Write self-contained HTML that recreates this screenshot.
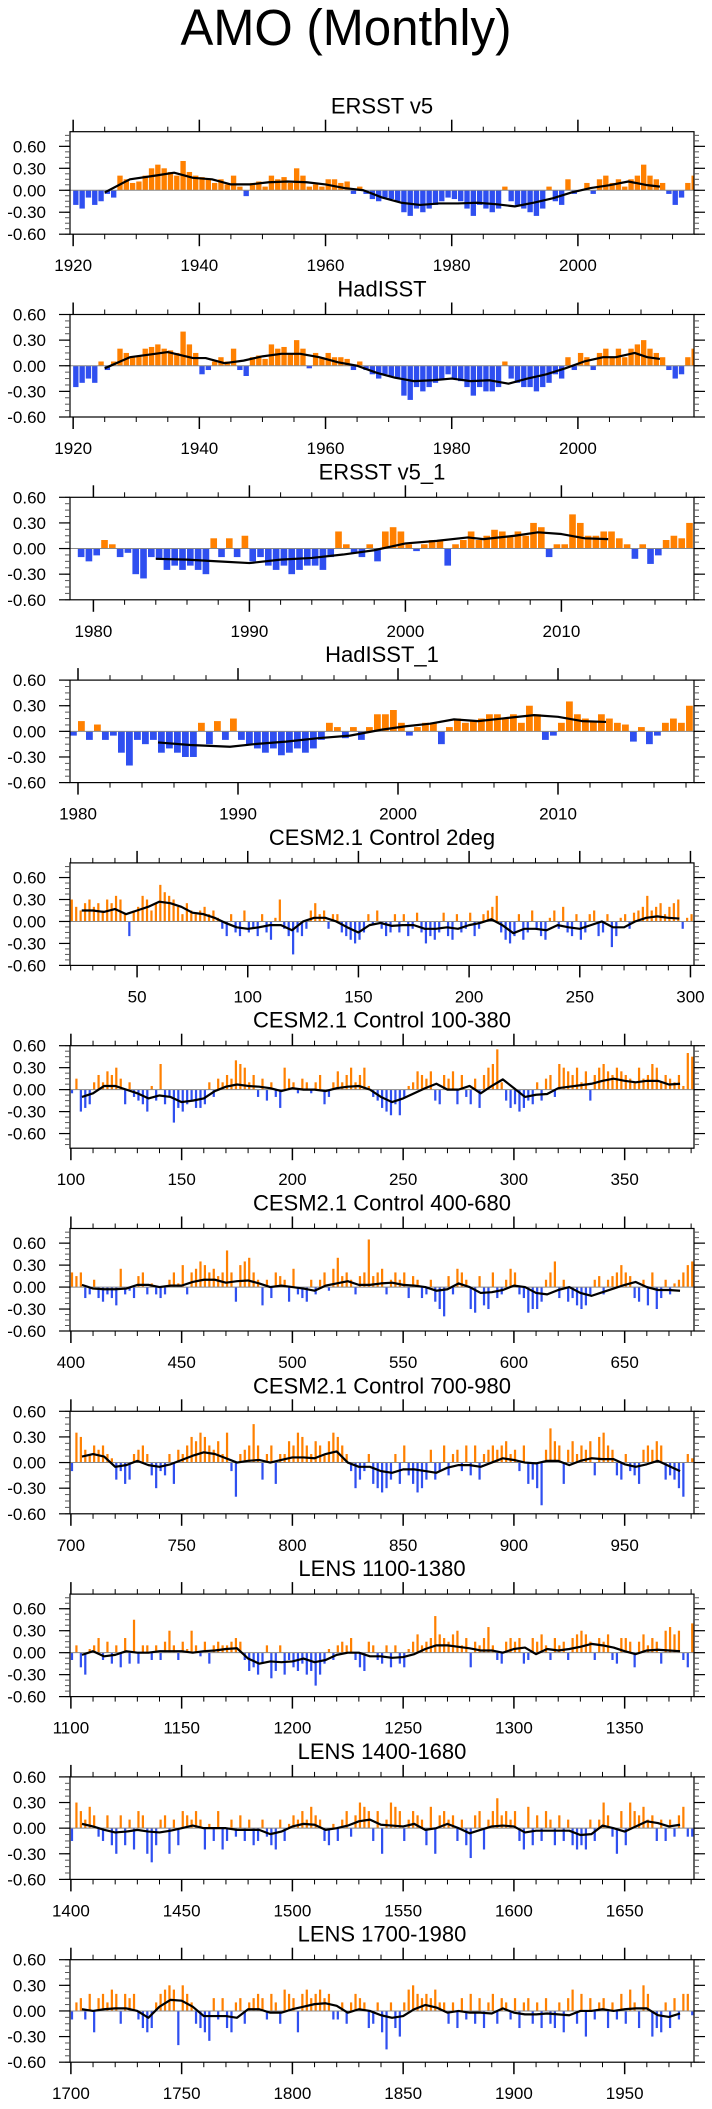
<!DOCTYPE html>
<html><head><meta charset="utf-8">
<style>
html,body{margin:0;padding:0;background:#fff;}
svg{display:block;font-family:"Liberation Sans",Arial,sans-serif;}
</style></head>
<body>
<svg id="chart" width="712" height="2109" viewBox="0 0 712 2109" xmlns="http://www.w3.org/2000/svg">
<rect width="712" height="2109" fill="#fff"/>
<text x="346" y="45" font-size="51" text-anchor="middle" textLength="331" lengthAdjust="spacingAndGlyphs">AMO (Monthly)</text>
</svg>
<script>
// ---------- data ----------
const titles = ["ERSST v5","HadISST","ERSST v5_1","HadISST_1","CESM2.1 Control 2deg","CESM2.1 Control 100-380","CESM2.1 Control 400-680","CESM2.1 Control 700-980","LENS 1100-1380","LENS 1400-1680","LENS 1700-1980"];
const xMin = [1919.5,1919.5,1978.5,1979.5,19.7,99.6,399.6,699.6,1099.6,1399.6,1699.6];
const xMax = [2018.4,2018.4,2018.5,2018.5,301.6,381.3,681.3,981.3,1381.3,1681.3,1981.3];
const yMin = [-0.6,-0.6,-0.6,-0.6,-0.6,-0.8,-0.6,-0.6,-0.6,-0.6,-0.6];
const yMax = [0.8,0.6,0.6,0.6,0.8,0.6,0.8,0.6,0.8,0.6,0.6];
const majorStep = [20,20,10,10,50,50,50,50,50,50,50];
const minorStep = [5,5,2,2,10,10,10,10,10,10,10];
const barStart = [1920,1920,1979,1979.5,20,100,400,700,1100,1400,1700];
const barStep = [1,1,0.5,0.5,2,2,2,2,2,2,2];
const barFill = [0.85,0.85,0.85,0.85,0.5,0.5,0.5,0.5,0.5,0.5,0.5];
const smoothStart = [null,null,null,null,25,105,405,705,1105,1405,1705];
const smoothStep = 5;
const yTickValues = [-0.6,-0.3,0,0.3,0.6];
const yTickLabels = ["-0.60","-0.30","0.00","0.30","0.60"];

const bars0 = [-0.2,-0.25,-0.1,-0.2,-0.15,-0.05,-0.1,0.2,0.15,0.1,0.12,0.2,0.3,0.35,0.3,0.25,0.2,0.4,0.25,0.2,0.18,0.15,0.1,0.15,0.08,0.2,0.05,-0.08,0.1,0.12,0.05,0.2,0.15,0.18,0.1,0.3,0.2,0.05,0.08,0.05,0.15,0.15,0.1,0.12,-0.05,0.05,-0.05,-0.12,-0.15,-0.1,-0.12,-0.15,-0.3,-0.35,-0.25,-0.3,-0.25,-0.2,-0.15,-0.1,-0.12,-0.15,-0.25,-0.35,-0.2,-0.25,-0.3,-0.25,0.05,-0.15,-0.2,-0.25,-0.3,-0.35,-0.25,0.05,-0.15,-0.2,0.15,-0.05,0.0,0.1,-0.05,0.15,0.2,0.1,0.15,0.05,0.15,0.2,0.35,0.2,0.15,0.1,-0.05,-0.2,-0.1,0.1,0.2];
const bars1 = [-0.25,-0.2,-0.15,-0.2,0.05,-0.05,0.05,0.2,0.15,0.1,0.12,0.2,0.22,0.25,0.2,0.18,0.15,0.4,0.25,0.15,-0.1,-0.05,0.05,0.1,0.05,0.2,-0.05,-0.12,0.1,0.12,0.08,0.25,0.2,0.22,0.15,0.3,0.2,-0.03,0.15,0.1,0.15,0.1,0.1,0.08,-0.05,0.05,-0.05,-0.1,-0.15,-0.1,-0.12,-0.15,-0.35,-0.4,-0.25,-0.3,-0.25,-0.2,-0.15,-0.1,-0.15,-0.18,-0.25,-0.35,-0.25,-0.3,-0.3,-0.25,0.05,-0.15,-0.2,-0.25,-0.25,-0.3,-0.25,-0.2,-0.1,-0.15,0.1,-0.05,0.15,0.1,-0.05,0.15,0.2,0.1,0.2,0.1,0.2,0.25,0.3,0.2,0.15,0.1,-0.05,-0.15,-0.1,0.1,0.2];
const bars2 = [-0.1,-0.15,-0.08,0.1,0.05,-0.1,-0.05,-0.3,-0.35,-0.1,-0.12,-0.25,-0.2,-0.25,-0.2,-0.25,-0.3,0.12,-0.1,0.12,-0.1,0.15,-0.15,-0.1,-0.2,-0.25,-0.2,-0.3,-0.25,-0.2,-0.2,-0.25,-0.1,0.2,0.05,-0.05,-0.1,0.05,-0.15,0.2,0.25,0.2,0.05,-0.03,0.05,0.1,0.1,-0.2,0.05,0.1,0.2,0.1,0.15,0.22,0.2,0.15,0.2,0.15,0.3,0.25,-0.1,0.05,0.05,0.4,0.3,0.15,0.15,0.2,0.2,0.12,0.05,-0.12,0.05,-0.18,-0.08,0.1,0.15,0.12,0.3];
const bars3 = [-0.05,0.12,-0.1,0.08,-0.1,-0.05,-0.25,-0.4,-0.1,-0.15,-0.1,-0.25,-0.2,-0.25,-0.3,-0.3,0.1,-0.15,0.12,-0.1,0.15,-0.1,-0.15,-0.2,-0.25,-0.2,-0.28,-0.25,-0.2,-0.25,-0.2,-0.1,0.1,0.05,-0.08,0.05,-0.1,0.05,0.2,0.2,0.25,0.1,-0.05,0.05,0.1,0.1,-0.15,0.05,0.15,0.1,0.12,0.15,0.2,0.2,0.15,0.2,0.1,0.3,0.2,-0.1,-0.05,0.1,0.35,0.2,0.15,0.12,0.2,0.15,0.1,0.08,-0.12,0.05,-0.15,-0.05,0.1,0.15,0.1,0.3];
const bars4 = [0.3,0.2,0.15,0.25,0.3, 0.2,0.25,0.15,0.3,0.25, 0.35,0.3,0.1,-0.2,0.15, 0.2,0.35,0.3,0.15,0.25, 0.5,0.4,0.35,0.3,0.2, 0.1,0.25,0.15,0.1,0.15, 0.2,0.1,0.15,0.05,-0.1, -0.2,0.1,-0.15,-0.2,0.15, -0.15,-0.1,-0.2,0.1,-0.15, -0.25,0.05,0.3,-0.1,-0.2, -0.45,-0.15,-0.2,-0.1,0.15, 0.25,0.1,0.15,-0.1,0.1, 0.1,-0.15,-0.2,-0.25,-0.3, -0.25,-0.15,0.1,-0.05,0.15, -0.1,-0.2,-0.15,0.1,-0.15, 0.1,-0.2,-0.1,0.12,-0.15, -0.3,-0.2,-0.25,-0.15,0.12, -0.2,-0.25,0.1,-0.15,-0.1, 0.12,-0.2,-0.1,0.1,0.15, 0.2,0.35,-0.15,-0.25,-0.3, -0.2,0.1,-0.25,-0.15,0.15, -0.1,-0.2,-0.25,0.05,0.15, -0.1,0.2,-0.15,-0.2,0.1, -0.25,-0.15,0.1,0.15,-0.2, -0.15,0.1,-0.35,-0.2,0.05, 0.1,-0.1,0.12,0.15,0.2, 0.35,0.15,0.2,0.25,0.1, 0.2,0.25,0.3,-0.1,0.05, 0.1];
const bars5 = [-0.05,0.15,-0.3,-0.25,-0.2, 0.1,0.2,0.1,0.25,0.2, 0.3,0.15,-0.2,0.1,-0.1, -0.15,-0.2,-0.3,0.05,-0.15, 0.35,-0.2,-0.1,-0.45,-0.25, -0.3,-0.2,-0.15,-0.25,-0.25, -0.2,0.1,-0.1,0.15,0.1, 0.2,0.15,0.4,0.35,0.3, 0.1,0.2,-0.1,0.15,-0.15, 0.1,-0.1,-0.25,0.3,0.15, 0.1,-0.05,0.15,0.1,-0.05, 0.1,0.2,-0.2,-0.1,0.1, 0.25,0.1,0.2,0.3,0.1, 0.2,0.3,0.05,-0.1,-0.15, -0.25,-0.3,-0.35,-0.2,-0.35, -0.1,0.05,0.1,0.25,0.2, 0.15,0.25,-0.15,-0.2,0.2, 0.15,0.25,-0.2,0.2,-0.1, -0.2,0.15,-0.25,0.2,0.3, 0.35,0.55,0.1,-0.15,-0.25, -0.2,-0.3,-0.25,-0.15,-0.2, 0.1,-0.15,0.15,0.2,-0.1, 0.35,0.3,0.25,0.2,0.3, 0.1,0.25,-0.15,0.2,0.3, 0.35,0.25,0.2,0.3,0.25, 0.2,0.15,0.1,0.3,0.15, 0.2,0.35,0.3,0.1,0.2, 0.15,0.1,0.2,0.05,0.5, 0.45];
const bars6 = [0.2,0.15,0.2,-0.15,-0.1, 0.1,-0.15,-0.2,-0.1,-0.15, -0.25,0.25,-0.1,-0.05,-0.15, 0.15,0.2,-0.1,0.05,-0.1, -0.15,-0.1,0.1,0.2,0.05, 0.3,-0.1,0.2,0.25,0.35, 0.3,0.2,0.25,0.15,0.2, 0.5,0.2,-0.2,0.3,0.35, 0.4,0.2,0.1,-0.25,0.1, -0.15,0.2,0.15,0.1,-0.2, 0.25,-0.1,-0.15,-0.2,0.1, -0.1,0.1,0.2,-0.05,0.25, 0.4,0.15,0.2,0.1,-0.1, 0.15,0.2,0.65,0.15,0.2, 0.25,-0.1,0.1,0.2,0.1, 0.2,-0.15,0.15,0.1,-0.15, -0.1,0.1,-0.2,-0.3,-0.4, 0.15,-0.1,0.25,0.2,0.1, -0.3,-0.35,0.15,-0.25,-0.3, 0.2,-0.15,-0.1,0.1,0.25, 0.2,-0.1,-0.15,-0.35,-0.3, -0.3,-0.2,0.1,0.2,0.35, -0.15,0.1,-0.2,-0.15,-0.25, -0.3,-0.25,-0.1,0.1,0.15, -0.1,0.1,0.15,0.2,0.3, 0.2,0.15,-0.15,-0.2,0.1, -0.25,0.2,-0.3,-0.15,0.1, -0.1,0.05,0.1,0.2,0.3, 0.35];
const bars7 = [-0.1,0.35,0.3,0.15,0.1, 0.2,0.15,0.2,0.1,0.05, -0.2,-0.1,-0.25,-0.2,0.1, 0.15,0.2,0.1,-0.15,-0.3, -0.1,-0.15,0.1,-0.25,0.15, 0.1,0.2,0.3,0.25,0.35, 0.3,0.2,0.15,0.25,0.1, 0.35,-0.1,-0.4,0.1,0.15, 0.2,0.45,0.2,-0.2,0.1, 0.2,-0.25,0.1,0.1,0.25, 0.2,0.35,0.3,0.2,0.1, 0.25,0.2,0.1,0.25,0.35, 0.3,0.2,0.1,-0.1,-0.3, -0.2,-0.1,0.1,-0.25,-0.3, -0.35,-0.3,-0.2,0.1,-0.25, 0.2,-0.15,-0.25,-0.35,-0.3, -0.2,0.15,-0.2,-0.1,0.2, -0.15,0.1,0.15,-0.1,0.2, -0.15,0.2,-0.2,0.1,0.15, 0.2,0.15,0.2,0.25,0.1, 0.15,-0.1,0.2,-0.25,-0.2, -0.3,-0.5,0.15,0.4,0.25, 0.2,-0.25,0.15,0.25,0.1, 0.2,0.15,0.25,-0.15,0.3, 0.35,0.2,0.15,-0.15,-0.2, 0.1,-0.1,-0.15,-0.25,0.15, 0.2,0.15,0.25,0.2,-0.2, -0.15,-0.2,-0.3,-0.4,0.1, 0.05];
const bars8 = [-0.1,0.1,-0.2,-0.3,0.05, 0.1,0.2,-0.1,0.15,-0.15, 0.1,-0.2,0.2,-0.15,0.45, -0.15,0.1,0.1,-0.1,0.1, -0.1,0.15,0.3,0.1,-0.1, 0.15,0.05,0.3,0.1,-0.05, 0.15,-0.15,0.1,0.15,0.1, 0.1,0.15,0.2,0.15,-0.1, -0.25,-0.2,-0.3,-0.15,0.1, -0.35,-0.25,0.1,-0.3,-0.1, -0.2,-0.25,-0.15,-0.3,-0.25, -0.45,-0.3,-0.15,0.05,-0.1, 0.1,0.15,0.1,0.2,-0.1, -0.2,-0.25,0.15,0.1,-0.1, -0.15,0.1,-0.2,0.1,-0.15, -0.2,0.05,0.15,0.25,0.1, 0.15,0.2,0.5,0.25,0.2, 0.15,0.25,0.3,0.1,0.2, -0.2,0.15,0.1,0.2,0.35, 0.1,-0.1,-0.15,0.15,0.2, 0.15,0.2,-0.15,-0.1,0.2, 0.15,0.25,0.1,-0.1,0.2, 0.1,0.15,-0.1,0.2,0.25, 0.3,0.25,0.15,-0.1,0.2, 0.15,0.25,-0.1,-0.15,0.2, 0.2,0.15,-0.2,0.15,0.25, 0.1,0.2,0.15,-0.15,0.3, 0.35,0.25,0.3,-0.1,-0.2, 0.4];
const bars9 = [-0.15,0.3,0.2,0.1,0.25, 0.15,-0.1,-0.15,0.15,-0.2, -0.3,0.15,-0.2,0.1,-0.25, 0.2,0.15,-0.3,-0.4,-0.2, 0.1,0.15,-0.3,0.1,-0.2, 0.2,0.15,0.1,0.2,0.1, -0.25,0.05,-0.15,0.2,-0.25, -0.15,0.1,-0.1,0.15,-0.15, 0.1,-0.2,-0.15,0.1,-0.1, -0.2,-0.25,0.1,-0.15,0.05, 0.15,0.1,0.2,0.1,0.25, 0.15,0.1,-0.15,-0.2,0.05, -0.15,0.1,0.2,-0.1,0.15, 0.3,0.25,0.2,-0.15,0.2, -0.3,0.1,0.3,0.25,0.2, -0.15,0.1,0.2,0.15,0.1, -0.2,0.25,-0.3,0.15,0.2, 0.1,0.15,-0.15,0.1,-0.2, -0.35,0.15,0.2,-0.25,0.1, 0.2,0.35,0.15,0.2,0.1, 0.2,-0.15,-0.25,0.25,-0.2, 0.15,-0.15,0.2,0.1,-0.2, 0.15,-0.15,0.1,-0.2,-0.25, -0.2,-0.25,0.1,-0.15,0.1, 0.3,0.15,-0.1,-0.3,0.2, -0.2,0.3,0.2,0.15,0.25, 0.1,0.15,-0.15,0.1,-0.15, 0.1,-0.1,0.15,0.25,-0.1, -0.1];
const bars10 = [-0.1,0.1,0.15,-0.1,0.2, -0.25,0.15,0.2,0.1,0.25, 0.2,-0.15,0.2,0.15,0.2, -0.1,-0.2,-0.25,-0.2,0.1, 0.2,0.25,0.3,0.25,-0.4, 0.3,0.2,0.1,-0.15,-0.2, -0.25,-0.35,0.15,-0.1,0.15, -0.2,-0.25,0.1,0.15,-0.15, 0.1,0.15,0.2,0.15,-0.1, 0.2,0.1,-0.15,0.25,0.2, 0.15,-0.25,0.2,0.25,0.15, 0.2,0.25,0.15,0.2,-0.1, -0.1,0.1,-0.15,0.1,0.2, 0.15,0.1,-0.2,-0.15,0.1, -0.25,-0.45,0.1,-0.2,-0.3, 0.1,0.25,0.3,0.2,0.15, 0.2,0.15,0.25,0.1,0.1, -0.15,0.1,-0.2,0.15,-0.1, 0.2,-0.15,0.15,-0.2,0.1, 0.2,-0.15,0.15,0.1,-0.1, 0.15,-0.2,0.1,0.15,-0.15, 0.1,-0.2,0.15,-0.15,-0.2, 0.1,-0.25,0.15,0.25,-0.15, 0.2,-0.3,0.15,-0.1,0.1, 0.15,-0.2,0.1,-0.1,0.2, -0.15,0.25,0.1,-0.2,0.3, 0.2,-0.3,-0.2,-0.25,0.1, -0.2,0.15,-0.1,0.2,0.2, -0.05];
const barSeries = [bars0,bars1,bars2,bars3,bars4,bars5,bars6,bars7,bars8,bars9,bars10];

const smoothYears0 = [1925,1929,1933,1936,1939,1942,1945,1948,1951,1954,1957,1960,1963,1966,1969,1972,1975,1978,1981,1984,1987,1990,1993,1996,1999,2002,2005,2008,2011,2013];
const smoothVals0 = [-0.03,0.15,0.2,0.24,0.17,0.15,0.08,0.08,0.11,0.12,0.11,0.08,0.03,0.0,-0.1,-0.17,-0.2,-0.18,-0.18,-0.17,-0.19,-0.22,-0.17,-0.11,-0.03,0.03,0.07,0.12,0.07,0.05];
const smoothYears1 = [1925,1929,1933,1935,1939,1941,1944,1947,1950,1953,1956,1959,1962,1965,1968,1971,1974,1977,1980,1983,1986,1989,1992,1995,1998,2001,2004,2006,2009,2011,2013];
const smoothVals1 = [-0.03,0.1,0.14,0.16,0.09,0.09,0.03,0.06,0.11,0.14,0.14,0.1,0.04,0.0,-0.08,-0.14,-0.18,-0.17,-0.15,-0.18,-0.17,-0.21,-0.15,-0.1,-0.03,0.05,0.1,0.1,0.15,0.1,0.08];
const smoothYears2 = [1984,1986,1988,1990,1992,1994,1996,1998,2000,2002,2004,2005,2007,2008.5,2010,2011.5,2013];
const smoothVals2 = [-0.12,-0.13,-0.15,-0.17,-0.13,-0.11,-0.07,-0.02,0.06,0.09,0.13,0.11,0.15,0.19,0.17,0.12,0.11];
const smoothYears3 = [1985,1987,1989.5,1991,1993,1995,1997,1999,2000.5,2002,2003.5,2005,2006.5,2008.5,2010,2011.5,2013];
const smoothVals3 = [-0.13,-0.16,-0.18,-0.15,-0.12,-0.08,-0.05,0.02,0.06,0.09,0.14,0.12,0.15,0.19,0.17,0.12,0.11];
const smoothVals4 = [0.15,0.15,0.13,0.17,0.1,0.15,0.2,0.27,0.25,0.2,0.12,0.1,0.05,-0.02,-0.08,-0.1,-0.08,-0.05,-0.05,-0.12,0.0,0.05,0.05,0.0,-0.08,-0.15,-0.05,-0.02,-0.06,-0.05,-0.05,-0.1,-0.1,-0.08,-0.1,-0.05,-0.02,0.03,-0.05,-0.16,-0.1,-0.1,-0.12,-0.05,-0.08,-0.1,-0.05,0.0,-0.08,-0.08,0.0,0.05,0.07,0.05,0.04];
const smoothVals5 = [-0.1,-0.05,0.05,0.05,0.0,-0.05,-0.12,-0.08,-0.1,-0.17,-0.15,-0.12,-0.02,0.04,0.07,0.05,0.04,0.02,-0.02,0.02,0.0,0.0,-0.02,0.02,0.04,0.05,0.0,-0.1,-0.17,-0.12,-0.05,0.02,0.08,0.0,0.0,0.05,-0.05,0.05,0.14,0.02,-0.1,-0.07,-0.06,0.02,0.04,0.06,0.08,0.12,0.15,0.12,0.1,0.12,0.12,0.07,0.08];
const smoothVals6 = [0.03,-0.02,-0.03,-0.03,-0.02,0.03,0.03,0.0,0.02,0.02,0.07,0.1,0.1,0.06,0.08,0.09,0.05,0.0,0.02,0.0,-0.02,-0.05,0.02,0.05,0.08,0.03,0.03,0.05,0.06,0.03,0.02,0.0,-0.05,-0.03,0.05,0.0,-0.08,-0.07,-0.04,0.02,0.0,-0.08,-0.1,-0.04,0.0,-0.08,-0.12,-0.07,-0.02,0.03,0.07,0.0,-0.04,-0.04,-0.05];
const smoothVals7 = [0.07,0.1,0.07,-0.05,-0.03,0.02,-0.03,-0.05,-0.02,0.03,0.08,0.12,0.1,0.05,0.0,0.02,0.03,0.0,0.03,0.06,0.06,0.05,0.1,0.13,0.0,-0.05,-0.05,-0.1,-0.12,-0.08,-0.08,-0.1,-0.12,-0.06,-0.03,-0.03,-0.05,0.0,0.05,0.03,0.0,-0.01,0.02,0.02,-0.03,0.02,0.05,0.04,0.04,-0.02,-0.05,-0.02,0.02,-0.04,-0.1];
const smoothVals8 = [-0.03,0.02,-0.05,-0.03,0.02,0.0,0.0,0.02,0.02,0.02,0.0,0.02,0.03,0.05,0.06,-0.08,-0.15,-0.12,-0.13,-0.12,-0.08,-0.13,-0.1,-0.03,0.0,0.0,-0.05,-0.05,-0.07,-0.06,-0.02,0.05,0.1,0.1,0.08,0.06,0.03,0.03,0.0,0.05,0.07,-0.02,0.05,0.03,0.05,0.08,0.12,0.1,0.07,0.02,-0.02,0.03,0.04,0.03,0.02];
const smoothVals9 = [0.05,0.02,-0.02,-0.05,-0.04,-0.02,-0.04,-0.05,-0.03,0.0,0.03,0.0,0.0,0.0,-0.02,-0.02,-0.02,-0.07,-0.04,0.02,0.05,0.04,-0.02,0.0,0.03,0.08,0.1,0.04,0.03,0.02,0.05,-0.02,0.0,0.05,0.0,-0.06,-0.02,0.02,0.03,0.02,-0.05,-0.03,-0.03,-0.03,-0.03,-0.08,-0.07,0.03,0.0,-0.04,0.02,0.08,0.06,0.02,0.04];
const smoothVals10 = [0.02,0.0,0.02,0.03,0.03,0.0,-0.08,0.05,0.13,0.12,0.05,-0.06,-0.06,-0.06,-0.08,0.02,0.02,-0.02,-0.02,0.02,0.05,0.08,0.09,0.06,-0.02,0.02,0.0,-0.05,-0.08,-0.06,0.02,0.07,0.04,-0.02,0.0,-0.02,-0.02,-0.03,0.03,-0.02,-0.04,-0.04,-0.03,-0.04,-0.05,0.0,0.0,0.02,0.0,0.02,0.03,0.03,-0.05,-0.07,-0.03];
const smoothYearSets = [smoothYears0,smoothYears1,smoothYears2,smoothYears3,null,null,null,null,null,null,null];
const smoothValSets = [smoothVals0,smoothVals1,smoothVals2,smoothVals3,smoothVals4,smoothVals5,smoothVals6,smoothVals7,smoothVals8,smoothVals9,smoothVals10];

// ---------- drawing ----------
const NS = "http://www.w3.org/2000/svg";
const svg = document.getElementById('chart');
const L = 70, R = 694, H = 102.5, TOP0 = 131.7, GAP = 182.8;
function mk(tag, attrs, parent){ const e=document.createElementNS(NS,tag); for(const k in attrs) e.setAttribute(k,attrs[k]); (parent||svg).appendChild(e); return e; }

for (let p = 0; p < titles.length; p++) {
  const top = TOP0 + p*GAP, bot = top + H;
  const g = mk('g', {});
  
  
  const xs = v => L + (v - xMin[p]) / (xMax[p] - xMin[p]) * (R - L);
  const ys = v => bot - (v - yMin[p]) / (yMax[p] - yMin[p]) * H;

  const t = mk('text', {x: 382, y: top - 18, 'font-size': 22, 'text-anchor': 'middle'}, g);
  t.textContent = titles[p];
  
  

  // bars
  const bg = mk('g', {}, g);
  
  
  const vals = barSeries[p];
  const w = (xs(barStart[p] + barStep[p]) - xs(barStart[p])) * barFill[p];
  for (let i = 0; i < vals.length; i++) {
    const xv = barStart[p] + i*barStep[p];
    let x0 = xs(xv), x1 = x0 + w;
    if (x0 < L) x0 = L; if (x1 > R) x1 = R;
    if (x1 <= x0) continue;
    const v = vals[i], y0 = ys(0), y1 = ys(v);
    const b = mk('rect', {x: x0.toFixed(2), y: Math.min(y0,y1).toFixed(2), width: (x1-x0).toFixed(2), height: Math.abs(y1-y0).toFixed(2), fill: v >= 0 ? '#ff8000' : '#2f4ff0'}, bg);
    
    
  }
  // zero line
  const z = mk('line', {x1: L, x2: R, y1: ys(0), y2: ys(0), stroke: '#888', 'stroke-width': 1}, g);
  
  

  // smooth line
  const sv = smoothValSets[p], sy = smoothYearSets[p];
  const pts = sv.map((v, i) => { const xv = sy ? sy[i] : smoothStart[p] + i*smoothStep; return xs(xv).toFixed(2) + ',' + ys(v).toFixed(2); }).join(' ');
  const pl = mk('polyline', {points: pts, fill: 'none', stroke: '#000', 'stroke-width': 2.2, 'stroke-linejoin': 'round'}, g);
  
  

  // frame
  const fr = mk('rect', {x: L, y: top, width: R-L, height: H, fill: 'none', stroke: '#000', 'stroke-width': 1.2}, g);
  
  

  // x ticks
  const firstMinor = Math.ceil(xMin[p]/minorStep[p])*minorStep[p];
  for (let v = firstMinor; v <= xMax[p]; v += minorStep[p]) {
    const major = Math.abs(v % majorStep[p]) < 1e-6;
    const len = major ? 12 : 5, x = xs(v);
    mk('line', {x1: x, x2: x, y1: top, y2: top - len, stroke: '#000', 'stroke-width': major ? 1.5 : 1}, g);
    mk('line', {x1: x, x2: x, y1: bot, y2: bot + len, stroke: '#000', 'stroke-width': major ? 1.5 : 1}, g);
    if (major) {
      const lt = mk('text', {x: x, y: bot + 37, 'font-size': 17, 'text-anchor': 'middle'}, g);
      lt.textContent = String(v);
      
      
    }
  }
  // y ticks
  for (let v = Math.ceil(yMin[p]/0.075 - 1e-6)*0.075; v <= yMax[p] + 1e-6; v += 0.075) {
    const y = ys(v);
    if (y < top - 0.5 || y > bot + 0.5) continue;
    mk('line', {x1: L, x2: L - 5, y1: y, y2: y, stroke: '#555', 'stroke-width': 1}, g);
    mk('line', {x1: R, x2: R + 5, y1: y, y2: y, stroke: '#555', 'stroke-width': 1}, g);
  }
  for (let i = 0; i < yTickValues.length; i++) {
    const v = yTickValues[i], y = ys(v);
    mk('line', {x1: L, x2: L - 11, y1: y, y2: y, stroke: '#000', 'stroke-width': 1.2}, g);
    mk('line', {x1: R, x2: R + 11, y1: y, y2: y, stroke: '#000', 'stroke-width': 1.2}, g);
    const yl = mk('text', {x: 46, y: y + 6, 'font-size': 17, 'text-anchor': 'end'}, g);
    yl.textContent = yTickLabels[i];
    
    
  }
}
</script>
</body></html>
